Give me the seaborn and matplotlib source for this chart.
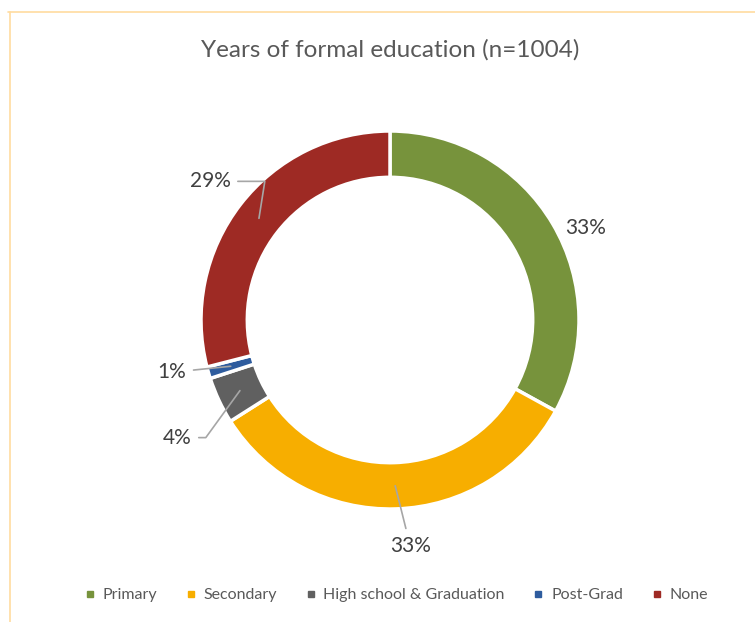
import numpy as np
import matplotlib
matplotlib.use("Agg")
import matplotlib.pyplot as plt
from matplotlib.lines import Line2D
import seaborn as sns

# data
categories = ["Primary", "Secondary", "High school & Graduation", "Post-Grad", "None"]
shares = [33, 33, 4, 1, 29]
colours = ["#77933C", "#F7AE00", "#606060", "#2E5C9E", "#9E2A24"]

sns.set_theme(style="white")
plt.rcParams["font.family"] = ["Lato", "DejaVu Sans"]

fig = plt.figure(figsize=(7.55, 6.22), dpi=100)

# square axes, 1 data unit = 189 px
lim = 1.6
px = 189 * 2 * lim
cx, cy = 390, 622 - 320
ax = fig.add_axes([(cx - px / 2) / 755, (cy - px / 2) / 622, px / 755, px / 622])

ring = 0.245
wedges, _ = ax.pie(shares, colors=sns.color_palette(colours), startangle=90, counterclock=False,
                   radius=1, wedgeprops=dict(width=ring, edgecolor="white", linewidth=2.5))
ax.set_xlim(-lim, lim)
ax.set_ylim(-lim, lim)
ax.set_aspect("equal")
ax.axis("off")

# label offsets (pixels) from the ring middle, plus leader-line bend angle
offsets = [(53, 8, None), (15, -60, "arc3"), (-63, -47, "angle,angleA=0,angleB=54"),
           (-59, -6, "arc3"), (-49, 37, "angle,angleA=0,angleB=81")]
r_mid = 1 - ring / 2
for w, val, (ox, oy, conn) in zip(wedges, shares, offsets):
    ang = np.deg2rad((w.theta1 + w.theta2) / 2)
    xy = (r_mid * np.cos(ang), r_mid * np.sin(ang))
    arrow = None
    if conn:
        arrow = dict(arrowstyle="-", color="#A6A6A6", lw=1.2, connectionstyle=conn, shrinkA=3, shrinkB=0)
    ax.annotate(f"{val}%", xy=xy, xytext=(ox, oy), textcoords="offset pixels",
                ha="center", va="center", fontsize=15, color="#404040", arrowprops=arrow)

fig.text(0.5166, 1 - 50 / 622, "Years of formal education (n=1004)", ha="center", va="center",
         fontsize=17.5, color="#595959")

handles = [Line2D([], [], marker="s", linestyle="", markersize=5, color=c) for c in colours]
fig.legend(handles, categories, loc="center", bbox_to_anchor=(0.523, 1 - 595 / 622), ncol=5,
           frameon=False, fontsize=11.5, handletextpad=0.3, columnspacing=1.6,
           labelcolor="#595959", handlelength=1.0)

# chart area border (partially cropped in the reference)
border = "#FFDCA0"
fig.add_artist(Line2D([8 / 755, 1], [1 - 12 / 622] * 2, color=border, lw=1.2))
fig.add_artist(Line2D([10 / 755] * 2, [0, 1 - 12 / 622], color=border, lw=1.2))

fig.savefig("out.png", dpi=100, facecolor="white")
